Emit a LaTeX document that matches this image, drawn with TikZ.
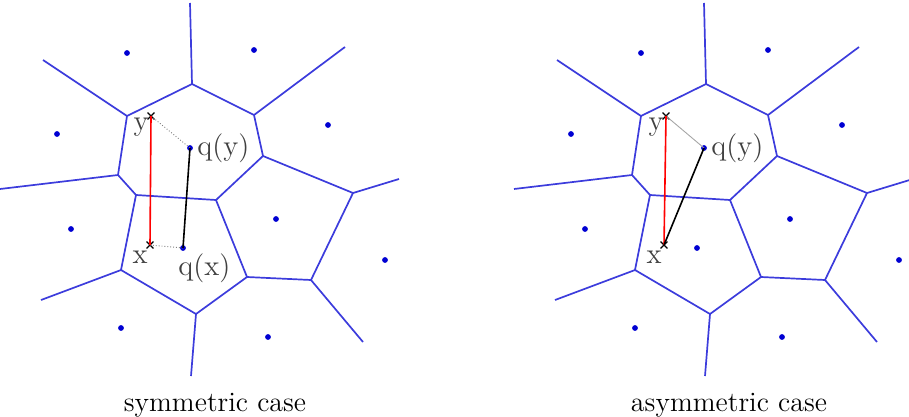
\documentclass[tikz,border=0pt]{standalone}
\usepackage{tikz}
\usetikzlibrary{shapes.misc}
\definecolor{cellblue}{RGB}{60,60,220}
\definecolor{siteblue}{RGB}{0,0,210}

\begin{document}
\begin{tikzpicture}[x=0.5pt,y=-0.5pt,
		cell/.style={draw=cellblue,line width=0.85pt},
		site/.style={circle,fill=siteblue,inner sep=0pt,minimum size=2.9pt},
		query/.style={cross out,draw=black,inner sep=0pt,minimum size=2.8pt,line width=0.6pt},
		lbl/.style={font=\fontsize{14.5}{16}\selectfont,text=black!75,inner sep=1pt},
		caption/.style={font=\fontsize{14}{16}\selectfont,inner sep=0pt},
		proj/.style={gray,line width=0.45pt,densely dotted}]
	\useasboundingbox (0,0) rectangle (909,417);

	% Voronoi diagram, drawn twice
	\foreach \side/\dx in {L/0,R/514}{
		\begin{scope}[xshift=\dx*0.5pt]
			% vertices
			\coordinate (\side-v1) at (192,84);
			\coordinate (\side-v2) at (127,116);
			\coordinate (\side-v3) at (254,115);
			\coordinate (\side-v4) at (263,156);
			\coordinate (\side-v5) at (118,175);
			\coordinate (\side-v6) at (136,195);
			\coordinate (\side-v7) at (216,200);
			\coordinate (\side-v8) at (353,193);
			\coordinate (\side-v9) at (121,270);
			\coordinate (\side-v10) at (196,314);
			\coordinate (\side-v11) at (247,277);
			\coordinate (\side-v12) at (311,280);
			% open ends
			\coordinate (\side-e1) at (190,3);
			\coordinate (\side-e2) at (43,60);
			\coordinate (\side-e3) at (345,47);
			\coordinate (\side-e5) at (0,189);
			\coordinate (\side-e8) at (399,179);
			\coordinate (\side-e9) at (41,300);
			\coordinate (\side-e10) at (191,376);
			\coordinate (\side-e12) at (363,342);

			% Edges
			\draw[cell] (\side-v1) -- (\side-v2) -- (\side-v5) -- (\side-v6) -- (\side-v7) -- (\side-v4) -- (\side-v3) -- cycle;
			\draw[cell] (\side-v6) -- (\side-v9) -- (\side-v10) -- (\side-v11) -- (\side-v7);
			\draw[cell] (\side-v4) -- (\side-v8) -- (\side-v12) -- (\side-v11);
			\draw[cell] (\side-v1) -- (\side-e1);
			\draw[cell] (\side-v2) -- (\side-e2);
			\draw[cell] (\side-v3) -- (\side-e3);
			\draw[cell] (\side-v5) -- (\side-e5);
			\draw[cell] (\side-v8) -- (\side-e8);
			\draw[cell] (\side-v9) -- (\side-e9);
			\draw[cell] (\side-v10) -- (\side-e10);
			\draw[cell] (\side-v12) -- (\side-e12);

			% Sites
			\node[site] (\side-s1) at (127,53) {};
			\node[site] (\side-s2) at (254,50) {};
			\node[site] (\side-s3) at (57,134) {};
			\node[site] (\side-s4) at (328,125) {};
			\node[site] (\side-s6) at (71,229) {};
			\node[site] (\side-s7) at (276,219) {};
			\node[site] (\side-s8) at (385,260) {};
			\node[site] (\side-s9) at (121,328) {};
			\node[site] (\side-s10) at (268,337) {};
			\node[site] (\side-qy) at (190,148) {};
			\node[site] (\side-qx) at (183,248) {};
		\end{scope}
	}

	% query points
	\node[query] (L-y) at (151,116) {};
	\node[query] (L-x) at (150,245) {};
	\node[query] (R-y) at (666,116) {};
	\node[query] (R-x) at (664,245) {};

	% symmetric case
	\draw[proj] (L-y.center) -- (L-qy.center);
	\draw[proj] (L-x.center) -- (L-qx.center);
	\draw[red,line width=0.8pt] (L-x.center) -- (L-y.center);
	\draw[line width=0.8pt] (L-qx.center) -- (L-qy.center);

	% asymmetric case
	\draw[gray!70,line width=0.45pt] (R-y.center) -- (R-qy.center);
	\draw[red,line width=0.8pt] (R-x.center) -- (R-y.center);
	\draw[line width=0.8pt] (R-x.center) -- (R-qy.center);

	% Labels
	\node[lbl,anchor=north east] (L-ylbl) at (L-y.center) {y};
	\node[lbl,anchor=west,xshift=2.5pt] (L-qylbl) at (L-qy.center) {q(y)};
	\node[lbl,anchor=north east,yshift=-2pt] (L-xlbl) at (L-x.center) {x};
	\node[lbl,anchor=north west,xshift=-3.5pt,yshift=-1.5pt] (L-qxlbl) at (L-qx.center) {q(x)};
	\node[lbl,anchor=north east] (R-ylbl) at (R-y.center) {y};
	\node[lbl,anchor=west,xshift=2.5pt] (R-qylbl) at (R-qy.center) {q(y)};
	\node[lbl,anchor=north east,yshift=-2pt] (R-xlbl) at (R-x.center) {x};

	\node[caption] (L-cap) at (215,405) {symmetric case};
	\node[caption] (R-cap) at (729,405) {asymmetric case};
\end{tikzpicture}
\end{document}
